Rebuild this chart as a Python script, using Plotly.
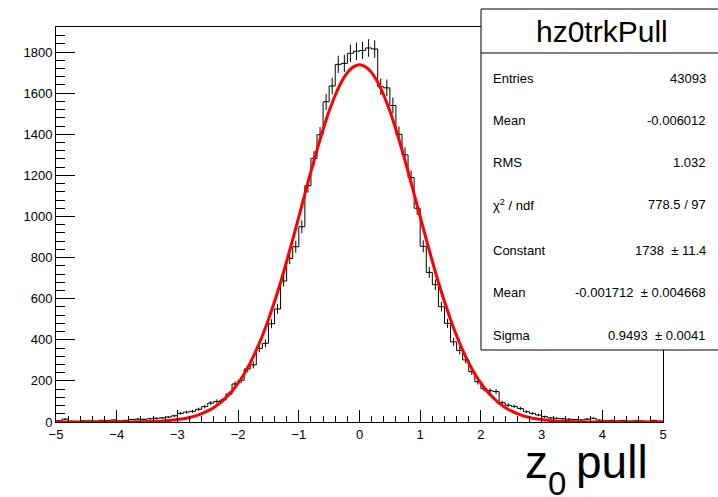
import numpy as np
import plotly.graph_objects as go

# 100 bins from -5 to 5
bin_edges = np.linspace(-5, 5, 101)
bin_centers = (bin_edges[:-1] + bin_edges[1:]) / 2

counts_left = [6, 14, 4, 3, 6, 5, 4, 8, 7, 10,
               5, 8, 12, 14, 13, 16, 18, 20, 24, 30,
               42, 48, 52, 62, 75, 92, 100, 107, 136, 185,
               203, 258, 278, 358, 383, 478, 550, 686, 796, 853,
               950, 1150, 1283, 1398, 1558, 1635, 1740, 1745, 1794, 1804]
counts_right = [1808, 1820, 1815, 1631, 1626, 1540, 1400, 1300, 1190, 1040,
                855, 728, 668, 561, 480, 390, 348, 302, 245, 196,
                162, 152, 148, 94, 82, 76, 66, 50, 42, 34,
                26, 20, 18, 16, 14, 12, 10, 14, 18, 9,
                6, 8, 5, 7, 4, 6, 5, 3, 8, 4]
counts = counts_left + counts_right

# red fit curve, read at steps of 0.1 from -5 to 5
fit_x = np.linspace(-5, 5, 101)
fit_y = [0, 0, 0, 0, 0, 0, 0, 0, 0, 0,
         0, 0, 0, 1, 1, 2, 3, 4, 6, 8,
         12, 16, 22, 30, 41, 54, 71, 92, 119, 150,
         189, 234, 288, 350, 420, 499, 586, 680, 782, 888,
         998, 1109, 1219, 1324, 1423, 1513, 1590, 1653, 1700, 1728,
         1738,
         1728, 1700, 1653, 1590, 1513, 1423, 1324, 1219, 1109, 998,
         888, 782, 680, 586, 499, 420, 350, 288, 234, 189,
         150, 119, 92, 71, 54, 41, 30, 22, 16, 12,
         8, 6, 4, 3, 2, 1, 1, 0, 0, 0,
         0, 0, 0, 0, 0, 0, 0, 0, 0, 0]

stat_labels = ["Entries", "Mean", "RMS", "χ<sup>2</sup> / ndf", "Constant", "Mean", "Sigma"]
stat_values = ["43093", "-0.006012", "1.032", "778.5 / 97",
               "1738  ± 11.4", "-0.001712  ± 0.004668", "0.9493  ± 0.0041"]

# plot area in pixels
L, R, T, B = 56, 663, 27, 422


def px(x):
    return (x - L) / (R - L)


def py(y):
    return (B - y) / (B - T)


fig = go.Figure()

# histogram outline
fig.add_trace(go.Scatter(
    x=list(bin_edges), y=counts + [counts[-1]],
    mode='lines', line=dict(color='black', width=1, shape='hv'),
    hoverinfo='skip'
))

# error bars
fig.add_trace(go.Scatter(
    x=bin_centers, y=counts, mode='markers',
    marker=dict(size=1, color='black'),
    error_y=dict(type='data', array=np.sqrt(counts), width=0, thickness=1, color='black')
))

# gaussian fit
fig.add_trace(go.Scatter(
    x=fit_x, y=fit_y, mode='lines',
    line=dict(color='#ff0000', width=3, shape='spline')
))

font = "Liberation Sans, Arial, sans-serif"

fig.update_layout(
    width=718, height=497,
    margin=dict(l=L, r=718 - R, t=T, b=497 - B),
    paper_bgcolor='white', plot_bgcolor='white',
    showlegend=False,
    font=dict(family=font, size=13, color='black'),
    xaxis=dict(range=[-5, 5], dtick=1, tick0=0, ticks='inside', ticklen=12, tickwidth=1,
               tickcolor='black', showline=True, linecolor='black', linewidth=1, mirror=True,
               showgrid=False, zeroline=False, tickfont=dict(size=13),
               minor=dict(dtick=0.2, ticks='inside', ticklen=6, tickcolor='black', showgrid=False)),
    yaxis=dict(range=[0, 1922], dtick=200, tick0=0, ticks='inside', ticklen=19, tickwidth=1,
               tickcolor='black', showline=True, linecolor='black', linewidth=1, mirror=True,
               showgrid=False, zeroline=False, tickfont=dict(size=13),
               minor=dict(dtick=40, ticks='inside', ticklen=9, tickcolor='black', showgrid=False)),
)

# stats box
fig.add_shape(type='rect', xref='paper', yref='paper',
              x0=px(481), x1=px(730), y0=py(350), y1=py(9),
              line=dict(color='black', width=1), fillcolor='white', layer='above')
fig.add_shape(type='line', xref='paper', yref='paper',
              x0=px(481), x1=px(730), y0=py(53), y1=py(53),
              line=dict(color='black', width=1), layer='above')
fig.add_annotation(text="hz0trkPull", xref='paper', yref='paper', x=px(602), y=py(31),
                   xanchor='center', yanchor='middle',
                   showarrow=False, font=dict(size=30, family=font))

row_y = [78, 120, 163, 205, 250, 292, 335]
for lab, val, yy in zip(stat_labels, stat_values, row_y):
    fig.add_annotation(text=lab, xref='paper', yref='paper', x=px(491), y=py(yy),
                       xanchor='left', yanchor='middle', showarrow=False,
                       font=dict(size=13, family=font))
    fig.add_annotation(text=val, xref='paper', yref='paper', x=px(708), y=py(yy),
                       xanchor='right', yanchor='middle', showarrow=False,
                       font=dict(size=13, family=font))

# axis title "z0 pull", subscript placed by hand
fig.add_annotation(text="z", xref='paper', yref='paper', x=px(523), y=py(462),
                   xanchor='left', yanchor='middle', showarrow=False,
                   font=dict(size=46, family=font))
fig.add_annotation(text="0", xref='paper', yref='paper', x=px(546), y=py(483),
                   xanchor='left', yanchor='middle', showarrow=False,
                   font=dict(size=33, family=font))
fig.add_annotation(text="pull", xref='paper', yref='paper', x=px(650), y=py(462),
                   xanchor='right', yanchor='middle', showarrow=False,
                   font=dict(size=46, family=font))

fig.write_html("out.html", config={'displayModeBar': False},
               post_script="document.body.style.margin='0px';")
